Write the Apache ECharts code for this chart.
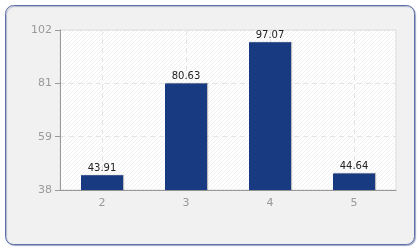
<!DOCTYPE html>
<html><head><meta charset="utf-8">
<script src="https://cdn.jsdelivr.net/npm/echarts@6/dist/echarts.min.js"></script>
<style>html,body{margin:0;padding:0;background:#fff;}#c{width:420px;height:250px;}</style>
</head><body><div id="c"></div>
<script>
const categories = ['2', '3', '4', '5'];
const values = [43.91, 80.63, 97.07, 44.64];
const yMin = 38, yMax = 102;

function hatch() {
  const c = document.createElement('canvas');
  c.width = 4; c.height = 4;
  const g = c.getContext('2d');
  g.fillStyle = '#ffffff'; g.fillRect(0, 0, 4, 4);
  g.strokeStyle = '#f0f0f0'; g.lineWidth = 1;
  g.beginPath();
  g.moveTo(0, 4); g.lineTo(4, 0);
  g.moveTo(-2, 2); g.lineTo(2, -2);
  g.moveTo(2, 6); g.lineTo(6, 2);
  g.stroke();
  return c;
}

const chart = echarts.init(document.getElementById('c'), null, {renderer: 'canvas'});
chart.setOption({
  animation: false,
  backgroundColor: '#ffffff',
  graphic: [{
    type: 'rect', z: -10, silent: true,
    shape: {x: 5.5, y: 5.5, width: 409, height: 239, r: 8},
    style: {fill: '#f1f1f1', stroke: '#5d6fa8', lineWidth: 1,
      shadowColor: 'rgba(40,60,120,0.35)', shadowOffsetX: 1, shadowOffsetY: 1, shadowBlur: 1}
  }],
  grid: {left: 60, right: 24, top: 30, bottom: 60, show: true,
    backgroundColor: {image: hatch(), repeat: 'repeat'},
    borderColor: '#dddddd', borderWidth: 1},
  xAxis: {
    type: 'category', data: categories,
    axisLine: {lineStyle: {color: '#999999'}},
    axisTick: {alignWithLabel: true, length: 5, lineStyle: {color: '#999999'}},
    axisLabel: {color: '#999999', fontSize: 11, fontFamily: 'DejaVu Sans', margin: 8},
    splitLine: {show: true, alignWithLabel: true, lineStyle: {color: '#e4e4e4', type: [5, 4]}}
  },
  yAxis: {
    type: 'value', min: yMin, max: yMax, interval: (yMax - yMin) / 3,
    axisLine: {show: true, lineStyle: {color: '#999999'}},
    axisTick: {show: true, length: 5, lineStyle: {color: '#999999'}},
    axisLabel: {color: '#999999', fontSize: 11, fontFamily: 'DejaVu Sans', margin: 8,
      formatter: v => String(Math.round(v))},
    splitLine: {show: true, lineStyle: {color: '#e4e4e4', type: [5, 4]}}
  },
  series: [{
    type: 'bar', data: values, barWidth: '50%',
    itemStyle: {color: '#183a80', shadowColor: 'rgba(0,0,0,0.25)', shadowOffsetX: 1, shadowBlur: 1},
    label: {show: true, position: 'top', distance: 2, color: '#222222', fontSize: 10,
      fontFamily: 'DejaVu Sans', formatter: p => p.value.toFixed(2)}
  }]
});
</script></body></html>
